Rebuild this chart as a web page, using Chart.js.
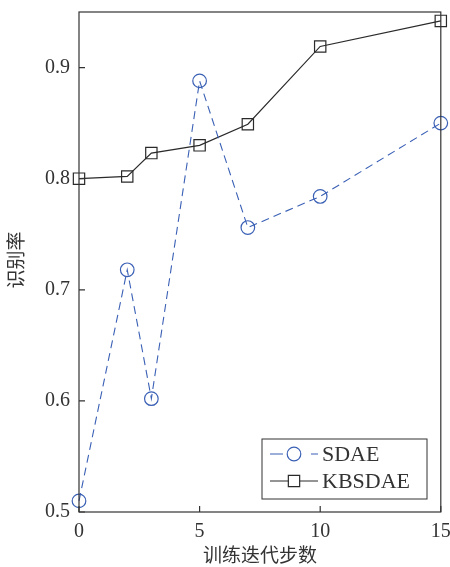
<!DOCTYPE html>
<html><head><meta charset="utf-8">
<script src="https://cdn.jsdelivr.net/npm/chart.js@4"></script>
<style>html,body{margin:0;padding:0;background:#fff}#w{width:450px;height:567px}</style>
</head><body><div id="w"><canvas id="c" width="450" height="567"></canvas></div>
<script>
const xTicks = [0, 5, 10, 15];
const yTicks = [0.5, 0.6, 0.7, 0.8, 0.9];
const steps = [0, 2, 3, 5, 7, 10, 15];
const sdae = [0.510, 0.718, 0.602, 0.888, 0.756, 0.784, 0.850];
const kbsdae = [0.800, 0.802, 0.823, 0.830, 0.849, 0.919, 0.942];
const seriesNames = ['SDAE', 'KBSDAE'];
const xTitle = '训练迭代步数';
const yTitle = '识别率';

const BLUE = '#3a60b5', BLACK = '#2a2a2a';
const serif = '"Liberation Serif", "DejaVu Serif", serif';
const cjk = '"Noto Sans CJK SC", sans-serif';

const deco = {
  id: 'deco',
  afterDraw(chart) {
    const ctx = chart.ctx, a = chart.chartArea;
    const xs = chart.scales.x, ys = chart.scales.y;
    ctx.save();
    ctx.strokeStyle = '#333'; ctx.lineWidth = 1.2;
    ctx.strokeRect(a.left, a.top, a.right - a.left, a.bottom - a.top);
    ctx.beginPath();
    xTicks.forEach(v => { const px = xs.getPixelForValue(v); ctx.moveTo(px, a.bottom); ctx.lineTo(px, a.bottom - 6); });
    yTicks.forEach(v => { const py = ys.getPixelForValue(v); ctx.moveTo(a.left, py); ctx.lineTo(a.left + 6, py); });
    ctx.stroke();
    // titles
    ctx.fillStyle = '#333';
    ctx.font = '19px ' + cjk;
    ctx.textAlign = 'center'; ctx.textBaseline = 'middle';
    ctx.fillText(xTitle, (a.left + a.right) / 2, 555);
    ctx.save(); ctx.translate(16, 260); ctx.rotate(-Math.PI / 2);
    ctx.fillText(yTitle, 0, 0); ctx.restore();
    // legend
    const lx = 262, ly = 439, lw = 165, lh = 60;
    ctx.fillStyle = '#fff'; ctx.fillRect(lx, ly, lw, lh);
    ctx.strokeStyle = '#333'; ctx.lineWidth = 1; ctx.strokeRect(lx, ly, lw, lh);
    const rows = [ly + 15, ly + 42];
    chart.data.datasets.forEach((ds, i) => {
      const y = rows[i];
      ctx.strokeStyle = ds.borderColor; ctx.lineWidth = ds.borderWidth;
      ctx.setLineDash(ds.borderDash ? [13, 28, 7, 100] : []);
      ctx.beginPath(); ctx.moveTo(270, y); ctx.lineTo(318, y); ctx.stroke();
      ctx.setLineDash([]);
      ctx.fillStyle = '#fff';
      ctx.strokeStyle = ds.pointBorderColor;
      ctx.lineWidth = ds.pointBorderWidth;
      Chart.helpers.drawPoint(ctx, { pointStyle: ds.pointStyle, radius: ds.pointRadius, borderWidth: ds.pointBorderWidth }, 294, y);
      ctx.fillStyle = '#333'; ctx.font = '22px ' + serif;
      ctx.textAlign = 'left'; ctx.textBaseline = 'middle';
      ctx.fillText(ds.label, 322, y + 1);
    });
    ctx.restore();
  }
};

new Chart(document.getElementById('c'), {
  type: 'line',
  data: {
    datasets: [
      { label: seriesNames[0], data: steps.map((s, i) => ({ x: s, y: sdae[i] })),
        borderColor: BLUE, borderWidth: 1.1, borderDash: [8, 5], pointStyle: 'circle', pointRadius: 6.8,
        pointBorderWidth: 1.2, pointBackgroundColor: 'rgba(0,0,0,0)', pointBorderColor: BLUE, clip: false, tension: 0 },
      { label: seriesNames[1], data: steps.map((s, i) => ({ x: s, y: kbsdae[i] })),
        borderColor: BLACK, borderWidth: 1.2, pointStyle: 'rect', pointRadius: 8,
        pointBorderWidth: 1.2, pointBackgroundColor: 'rgba(0,0,0,0)', pointBorderColor: BLACK, clip: false, tension: 0 }
    ]
  },
  options: {
    responsive: false, animation: false, devicePixelRatio: 1,
    layout: { padding: { left: 0, right: 8, top: 12, bottom: 0 } },
    plugins: { legend: { display: false }, tooltip: { enabled: false } },
    scales: {
      x: { type: 'linear', min: 0, max: 15,
        afterFit: s => { s.height = 55; s.paddingLeft = 0; s.paddingRight = 0; },
        afterBuildTicks: s => { s.ticks = xTicks.map(v => ({ value: v })); },
        grid: { display: false, drawTicks: false }, border: { display: false },
        ticks: { padding: 8, color: '#333', font: { family: serif, size: 20 }, maxRotation: 0 } },
      y: { type: 'linear', min: 0.5, max: 0.95,
        afterFit: s => { s.width = 79; s.paddingTop = 0; s.paddingBottom = 0; },
        afterBuildTicks: s => { s.ticks = yTicks.map(v => ({ value: v })); },
        grid: { display: false, drawTicks: false }, border: { display: false },
        ticks: { padding: 9, color: '#333', font: { family: serif, size: 20 }, callback: v => v.toFixed(1) } }
    }
  },
  plugins: [deco]
});
</script></body></html>
